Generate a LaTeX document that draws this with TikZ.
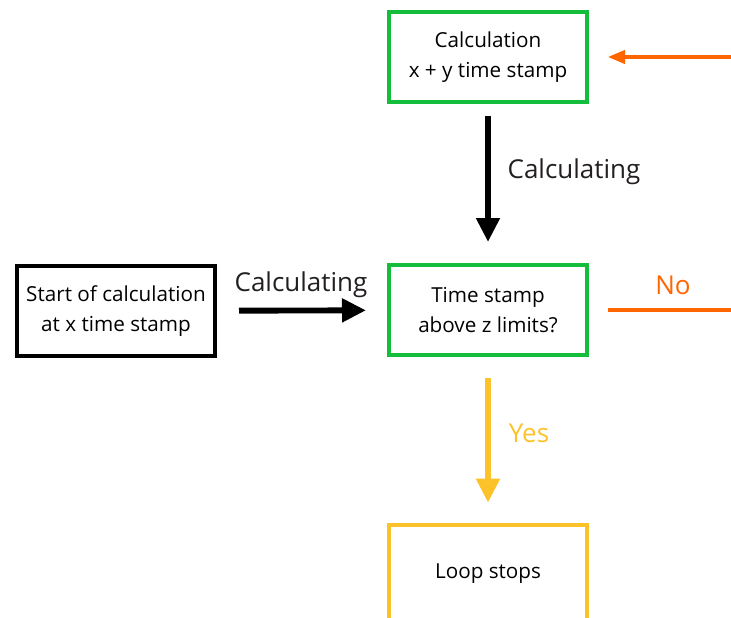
\documentclass[tikz,border=0pt]{standalone}
\usepackage{fontspec}
\setmainfont{Open Sans}
\usetikzlibrary{arrows.meta}
\definecolor{boxgreen}{RGB}{20,190,60}
\definecolor{looporange}{RGB}{255,102,0}
\definecolor{stopyellow}{RGB}{252,194,42}
\definecolor{labelgray}{RGB}{35,31,32}
\tikzset{
  stepbox/.style={draw, line width=3pt, minimum width=148.5pt, minimum height=67.5pt,
    inner sep=0pt, align=center, font=\fontsize{15.5}{22}\selectfont},
  flowlabel/.style={font=\fontsize{19.5}{22}\selectfont},
  bigarrow/.style={line width=4.4pt, -{Triangle[length=18pt, width=17pt]}}
}
\begin{document}
\begin{tikzpicture}[x=0.75pt, y=-0.75pt]
  \clip (0,0) rectangle (731,617);
  \node[stepbox, draw=boxgreen] (calc) at (488,57) {Calculation\\x + y time stamp};
  \node[stepbox] (start) at (116,311) {Start of calculation\\at x time stamp};
  \node[stepbox, draw=boxgreen] (check) at (488,310) {Time stamp\\above z limits?};
  \node[stepbox, draw=stopyellow, minimum height=74pt] (stop) at (488,574) {Loop stops};
  \coordinate (backin) at (731,57);
  \coordinate (noend) at (731,310);
  % labels
  \node[flowlabel, text=labelgray] (lbldown) at (574,172) {Calculating};
  \node[flowlabel, text=labelgray] (lblright) at (301,285) {Calculating};
  \node[flowlabel, text=looporange] (lblno) at (673,285) {No};
  \node[flowlabel, text=stopyellow] (lblyes) at (529,433) {Yes};
  % connectors
  \draw[bigarrow, shorten <=9pt, shorten >=15.75pt] (calc) -- (check);
  \draw[bigarrow, shorten <=16.5pt, shorten >=15.75pt] (start) -- (check);
  \draw[bigarrow, stopyellow, shorten <=15.75pt, shorten >=15pt] (check) -- (stop);
  \draw[looporange, line width=2.4pt, shorten <=14.25pt] (check) -- (noend);
  \draw[looporange, line width=2.4pt, shorten >=14.25pt,
    -{Triangle[length=12.75pt, width=10pt]}] (backin) -- (calc);
\end{tikzpicture}
\end{document}
